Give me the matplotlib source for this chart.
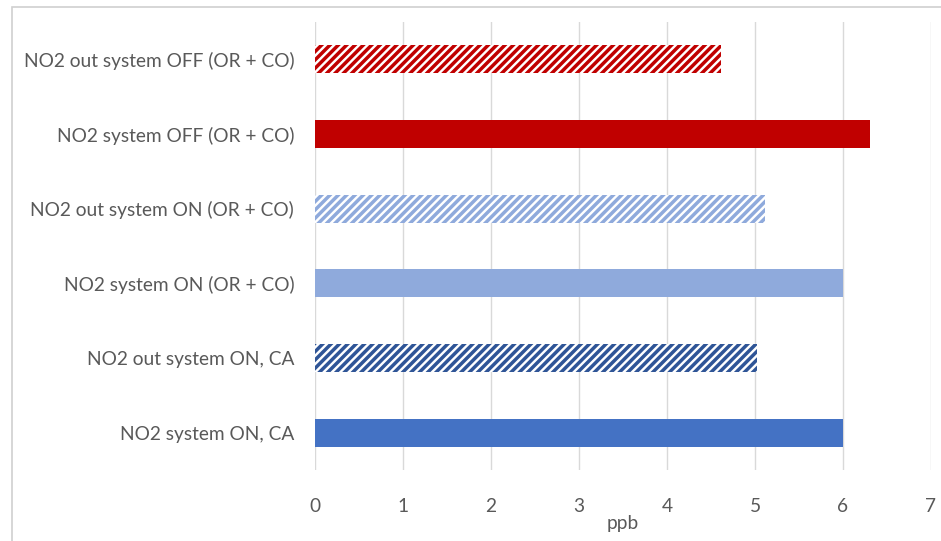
import matplotlib.pyplot as plt
from matplotlib.patches import Rectangle

labels = [
    "NO2 system ON, CA",
    "NO2 out system ON, CA",
    "NO2 system ON (OR + CO)",
    "NO2 out system ON (OR + CO)",
    "NO2 system OFF (OR + CO)",
    "NO2 out system OFF (OR + CO)",
]
values = [6.0, 5.02, 6.0, 5.11, 6.31, 4.61]
colors = ["#4472C4", "#2F5597", "#8FAADC", "#8FAADC", "#C00000", "#C00000"]
hatched = [False, True, False, True, False, True]
xticks = [0, 1, 2, 3, 4, 5, 6, 7]

plt.rcParams["font.family"] = ["Lato", "DejaVu Sans"]
plt.rcParams["hatch.linewidth"] = 2.5

W, H = 941, 541
fig = plt.figure(figsize=(W / 100, H / 100), dpi=100)
ax = fig.add_axes([315 / W, 1 - 470 / H, 616 / W, 448 / H])

# chart-area frame, runs off the right and bottom edges
fig.patches.append(Rectangle((12 / W, -0.1), 1.2, 1 - 7 / H + 0.1,
                             transform=fig.transFigure, fill=False,
                             edgecolor="#D0D0D0", linewidth=1.2))

ypos = range(len(labels))
for y, v, c, h in zip(ypos, values, colors, hatched):
    if h:
        ax.barh(y, v, height=0.375, color="white", edgecolor=c,
                hatch="////", linewidth=0, zorder=2)
    else:
        ax.barh(y, v, height=0.375, color=c, linewidth=0, zorder=2)

ax.set_xlim(0, 7)
ax.set_ylim(-0.5, 5.5)
ax.set_xticks(xticks)
ax.set_yticks(list(ypos))
ax.set_yticklabels(labels, fontsize=13.8)
ax.tick_params(axis="x", length=0, labelsize=13.8, colors="#595959", pad=20)
ax.tick_params(axis="y", length=0, colors="#595959", pad=15)
ax.xaxis.grid(True, color="#D9D9D9", linewidth=1.0, zorder=0)
ax.set_axisbelow(True)
for s in ax.spines.values():
    s.set_visible(False)
ax.set_xlabel("ppb", fontsize=13.8, color="#595959", labelpad=0)

fig.savefig("out.png", dpi=100)
